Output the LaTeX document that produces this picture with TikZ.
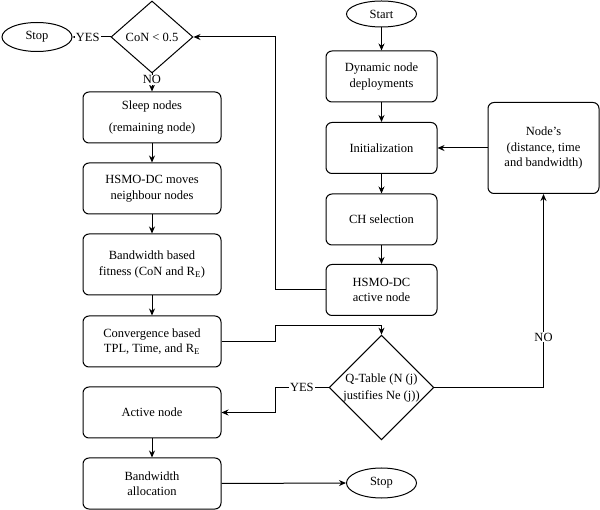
\documentclass[tikz,border=0pt]{standalone}
\usepackage{fontspec}
\setmainfont{Liberation Serif}
\usetikzlibrary{shapes.geometric,arrows.meta}

\begin{document}
\begin{tikzpicture}[x=1pt,y=-1pt,
  font=\fontsize{12.5}{15.5}\selectfont,
  line width=1pt,
  box/.style={draw,rounded corners=6pt,minimum width=138pt,minimum height=51pt,inner sep=0pt,align=center},
  rbox/.style={box,minimum width=111pt},
  term/.style={draw,ellipse,minimum width=70pt,minimum height=29pt,inner sep=0pt},
  test/.style={draw,diamond,inner sep=0pt,align=center},
  lbl/.style={fill=white,inner sep=1pt},
  flow/.style={arrows={-Stealth[length=7pt,width=6pt]}}]

\useasboundingbox (0,0) rectangle (600,510);

% ======== правый столбец ========
\def\xr{381.5}
\node[term,minimum height=26pt] (start) at (\xr,14) {Start};
\node[rbox] (deploy) at (\xr,76.5) {Dynamic node\\deployments};
\node[rbox] (init) at (\xr,148) {Initialization};
\node[rbox] (chsel) at (\xr,219.5) {CH selection};
\node[rbox] (hactive) at (\xr,290) {HSMO-DC\\active node};
\node[rbox,minimum height=91pt] (nodes) at (543.5,148) {Node’s\\(distance, time\\and bandwidth)};
\node[test,minimum width=102pt,minimum height=104pt] (qtable) at (\xr,387.5) {Q-Table (N (j)\\[1.5pt]justifies Ne (j))};
\node[term,minimum height=30pt] (stopB) at (\xr,483) {Stop};

% ======== левый столбец ========
\def\xl{152}
\node[test,minimum width=82pt,minimum height=72pt] (con) at (\xl,37) {CoN < 0.5};
\node[term] (stopA) at (37,37) {Stop};
\node[box] (sleep) at (\xl,117.5) {Sleep nodes\\[6pt](remaining node)};
\node[box] (moves) at (\xl,188.5) {HSMO-DC moves\\neighbour nodes};
\node[box,minimum height=61pt] (fitness) at (\xl,264.5) {Bandwidth based\\fitness (CoN and R\textsubscript{E})};
\node[box] (conv) at (\xl,341.5) {Convergence based\\TPL, Time, and R\textsubscript{E}};
\node[box] (active) at (\xl,412.5) {Active node};
\node[box] (alloc) at (\xl,483.5) {Bandwidth\\allocation};

% ======== связи ========
\coordinate (bus) at (275,0);
\coordinate (jog) at (275,326);

\foreach \a/\b in {start/deploy,deploy/init,init/chsel,chsel/hactive,
  sleep/moves,moves/fitness,fitness/conv,active/alloc}
  \draw[flow] (\a) -- (\b);

\draw[flow] (nodes.west) -- (init.east);
\draw[flow] (hactive.west) -| (bus |- con) -- (con.east);
\draw[flow] (con.west) -- node[lbl,pos=0.6] {YES} (stopA.east);
\draw[flow] (con.south) -- node[lbl,pos=0.35] {NO} (sleep.north);
\draw[flow] (conv.east) -| (jog) -| (qtable.north);
\draw[flow] (qtable.west) -- node[lbl] {YES} (qtable.west -| bus) |- (active.east);
\draw[flow] (qtable.east) -| node[lbl,pos=0.63] {NO} (nodes.south);
\draw[flow] (alloc.east) -- (stopB.west);

\end{tikzpicture}
\end{document}
